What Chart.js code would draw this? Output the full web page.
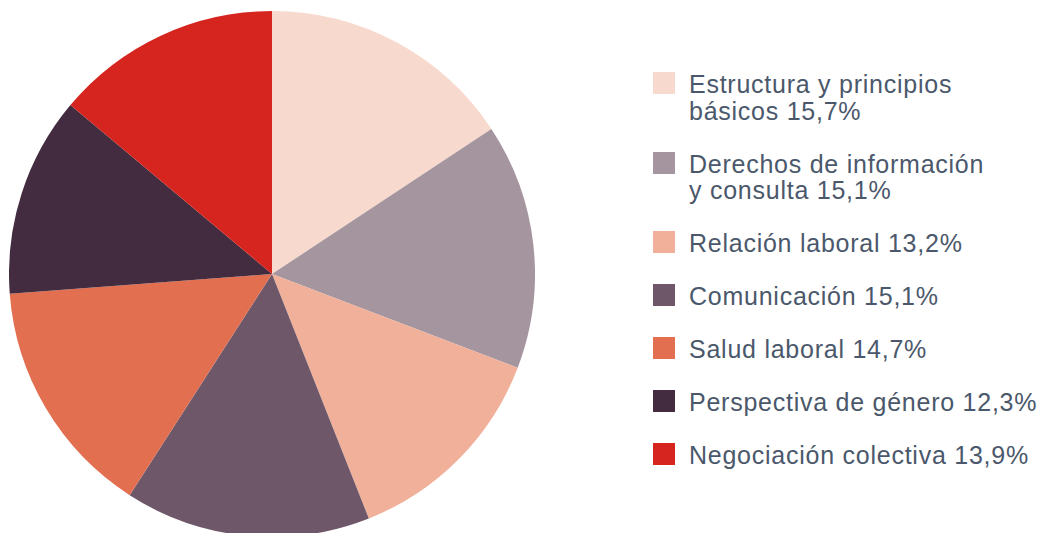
<!DOCTYPE html>
<html>
<head>
<meta charset="utf-8">
<script src="https://cdn.jsdelivr.net/npm/chart.js@4.4.0/dist/chart.umd.min.js"></script>
<style>
  html, body { margin: 0; padding: 0; background: #fff; overflow: hidden; }
  body { width: 1040px; height: 533px; position: relative; }
  #pieWrap { position: absolute; left: 9px; top: 11px; width: 526px; height: 526px; }
  #legend { position: absolute; left: 653px; top: 72px; font-family: "Liberation Sans", Arial, sans-serif; font-size: 25px; letter-spacing: 0.75px; color: #4b586b; }
  .item { position: relative; padding-left: 36px; line-height: 26.5px; margin-bottom: 26.5px; }
  .item .sw { position: absolute; left: 0; top: 0; width: 22px; height: 22px; }
  .item .tx { position: relative; top: -1px; white-space: nowrap; }
</style>
</head>
<body>
<div id="pieWrap"><canvas id="pie" width="526" height="526"></canvas></div>
<div id="legend"></div>
<script>
const labelLines = [
  ["Estructura y principios", "básicos"],
  ["Derechos de información", "y consulta"],
  ["Relación laboral"],
  ["Comunicación"],
  ["Salud laboral"],
  ["Perspectiva de género"],
  ["Negociación colectiva"]
];
const values = [15.7, 15.1, 13.2, 15.1, 14.7, 12.3, 13.9];
const colors = ["#f8d9cd", "#a5959f", "#f0b09a", "#6e5769", "#e26f50", "#432c40", "#d6241e"];

const fmt = v => v.toFixed(1).replace(".", ",") + "%";

// legend (HTML)
const legend = document.getElementById("legend");
labelLines.forEach((lines, i) => {
  const item = document.createElement("div");
  item.className = "item";
  const sw = document.createElement("span");
  sw.className = "sw";
  sw.style.background = colors[i];
  const tx = document.createElement("div");
  tx.className = "tx";
  const txt = lines.slice();
  txt[txt.length - 1] += " " + fmt(values[i]);
  tx.innerHTML = txt.join("<br>");
  item.appendChild(sw);
  item.appendChild(tx);
  legend.appendChild(item);
});

new Chart(document.getElementById("pie").getContext("2d"), {
  type: "pie",
  data: {
    labels: labelLines.map(l => l.join(" ")),
    datasets: [{
      data: values,
      backgroundColor: colors,
      borderWidth: 0,
      hoverOffset: 0,
      offset: 0
    }]
  },
  options: {
    responsive: false,
    animation: false,
    layout: { padding: 0 },
    plugins: { legend: { display: false }, tooltip: { enabled: false } }
  }
});
</script>
</body>
</html>
